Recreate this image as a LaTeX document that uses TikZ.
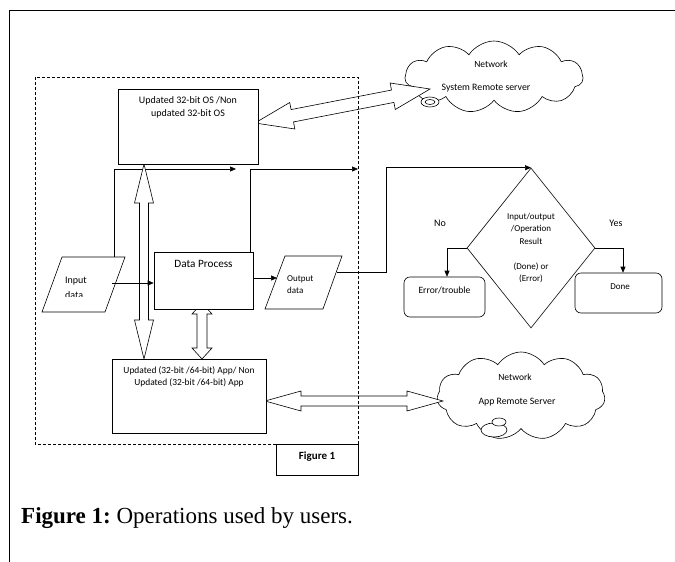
\documentclass[tikz,border=0pt]{standalone}
\usepackage{fontspec}
\setmainfont{Carlito}
\newfontfamily\capfont{Liberation Serif}
\usetikzlibrary{shapes.geometric,shapes.symbols,calc,arrows.meta}

\tikzset{
  box/.style={draw, fill=white, line width=0.6pt, inner sep=0pt},
  rbox/.style={box, rounded corners=6pt},
  lbl/.style={font=\fontsize{9}{12.4}\selectfont, align=center, inner sep=0pt},
  conn/.style={line width=0.6pt, -{Triangle[length=6pt,width=5pt]}},
  plain/.style={line width=0.6pt},
  hollow/.style={draw, fill=white, line width=0.6pt, line join=miter},
  cloudy/.style={cloud, draw, fill=white, cloud puffs=11, cloud puff arc=115, line width=0.6pt, inner sep=0pt},
  bubble/.style={ellipse, draw, fill=white, line width=0.6pt, inner sep=0pt},
  frameline/.style={line width=0.8pt},
  dashbox/.style={line width=0.6pt, dash pattern=on 3pt off 2pt},
}

% #1 start, #2 end, #3 shaft half width, #4 head half width, #5 head length
\newcommand\hollowdbl[5]{%
  \path coordinate (da-s) at (#1) coordinate (da-e) at (#2);
  \path ($(da-s)!#5!(da-e)$) coordinate (da-p1) ($(da-e)!#5!(da-s)$) coordinate (da-p2);
  \draw[hollow] (da-s) -- ($(da-p1)!#4!90:(da-e)$) -- ($(da-p1)!#3!90:(da-e)$)
    -- ($(da-p2)!#3!-90:(da-s)$) -- ($(da-p2)!#4!-90:(da-s)$) -- (da-e)
    -- ($(da-p2)!#4!90:(da-s)$) -- ($(da-p2)!#3!90:(da-s)$)
    -- ($(da-p1)!#3!-90:(da-e)$) -- ($(da-p1)!#4!-90:(da-e)$) -- cycle;
}

\begin{document}
\begin{tikzpicture}[x=1pt,y=-1pt]
\useasboundingbox (0,0) rectangle (675,562);

% outer frame
\draw[frameline] (9,562) -- (9,10) -- (675,10);

% clouds
\node[cloudy, minimum width=178pt, minimum height=72pt] (cloudA) at (494,77) {};
\node[lbl, font=\fontsize{9.5}{12}\selectfont] (cloudAt) at (491,64) {Network};
\node[lbl, font=\fontsize{9.8}{12}\selectfont] (cloudAs) at (486,88) {System Remote server};
\node[bubble, minimum width=18pt, minimum height=10pt] (bubA1) at (430,102) {};
\node[bubble, minimum width=10pt, minimum height=5pt] (bubA2) at (430,102) {};

\node[cloudy, minimum width=168pt, minimum height=88pt] (cloudB) at (521,396) {};
\node[lbl, font=\fontsize{9.5}{12}\selectfont] (cloudBt) at (515,377) {Network};
\node[lbl, font=\fontsize{9.8}{12}\selectfont] (cloudBs) at (517,402) {App Remote Server};
\node[bubble, minimum width=26pt, minimum height=14pt] (bubB1) at (494,430) {};
\node[bubble, minimum width=14pt, minimum height=8pt] (bubB2) at (499,422) {};

% connectors
\coordinate (inTop) at (114,257);
\coordinate (c1) at (236,169);
\coordinate (dpTop) at (250,252);
\coordinate (c2) at (358,169);
\coordinate (inOut) at (112,283);
\coordinate (outIn) at (277,278);
\coordinate (outR) at (337,272);
\coordinate (bend) at (386,272);

\draw[conn] (inTop) |- (c1);
\draw[conn] (dpTop) |- (c2);

% hollow double arrows
\hollowdbl{255,123}{430,89}{6.3pt}{13.5pt}{38pt}
\hollowdbl{265,401}{443,401}{5pt}{10pt}{36pt}
\hollowdbl{144,164}{144,359}{4.5pt}{9.5pt}{39pt}
\hollowdbl{202,303}{202,359}{5pt}{10pt}{11pt}

% dashed frame
\draw[dashbox] (276,444) -- (35,444) -- (35,77) -- (358,77) -- (358,444);

% boxes
\node[box, minimum width=140pt, minimum height=75pt] (os) at (188,126.5) {};
\node[lbl, font=\fontsize{10}{12.4}\selectfont, anchor=north] (osT) at ($(os.north)+(0,8)$) {Updated 32-bit OS /Non\\updated 32-bit OS};

\node[box, minimum width=99pt, minimum height=57pt] (dp) at (203.5,280.5) {};
\node[lbl, font=\fontsize{11.2}{13}\selectfont] (dpT) at (203.5,264) {Data Process};

\node[box, minimum width=154pt, minimum height=74pt] (app) at (189,396) {};
\node[lbl, font=\fontsize{9.4}{11.8}\selectfont, anchor=north] (appT) at ($(app.north)+(0,8)$) {Updated (32-bit /64-bit) App/ Non\\Updated (32-bit /64-bit) App};

\node[box, minimum width=82pt, minimum height=31pt] (fig) at (317,459.5) {};
\node[lbl, font=\fontsize{11}{12}\selectfont\bfseries] (figT) at (317,457) {Figure 1};

% input / output parallelograms
\draw[box] (62,257) -- (125,257) -- (105,312) -- (42,312) -- cycle;
\node[lbl, font=\fontsize{10}{12}\selectfont, anchor=west] (inT) at (65,281) {Input};
\begin{scope}
  \clip (40,288) rectangle (130,296);
  \node[lbl, font=\fontsize{10}{12}\selectfont, anchor=west] (inT2) at (65,295) {data};
\end{scope}

\draw[box] (285,256) -- (342,256) -- (323,309) -- (265,309) -- cycle;
\node[lbl, anchor=west, align=left] (outT) at (287,284.5) {Output\\data};

\draw[conn] (inOut) -- (inOut -| dp.west);
\draw[conn] (dp.east |- outIn) -- (outIn);

% decision
\node[diamond, draw, fill=white, line width=0.6pt, inner sep=0pt, minimum width=128pt, minimum height=160pt] (dia) at (531,248) {};
\node[lbl] (diaT) at (531,248) {Input/output\\/Operation\\Result\\[12.4pt](Done) or\\(Error)};
\draw[conn] (outR) -- (bend) |- (dia.north);

\node[rbox, minimum width=81pt, minimum height=40pt] (err) at (444.5,297) {};
\node[lbl, font=\fontsize{9.6}{12}\selectfont] (errT) at (444.5,290) {Error/trouble};
\node[rbox, minimum width=87pt, minimum height=40pt] (done) at (618.5,293) {};
\node[lbl] (doneT) at (620,287) {Done};

\draw[conn] (dia.west) -| ($(err.north)+(2.5,0)$);
\draw[conn] (dia.east) -| ($(done.north)+(4.5,0)$);
\node[lbl, font=\fontsize{10}{12}\selectfont] (no) at (440,223) {No};
\node[lbl, font=\fontsize{10}{12}\selectfont] (yes) at (616,223) {Yes};

% caption
\node[anchor=west, inner sep=0pt, font=\capfont\fontsize{23}{26}\selectfont] (cap) at (21,518) {\textbf{Figure 1:}\hspace{0.25em}Operations used by users.};
\end{tikzpicture}
\end{document}
